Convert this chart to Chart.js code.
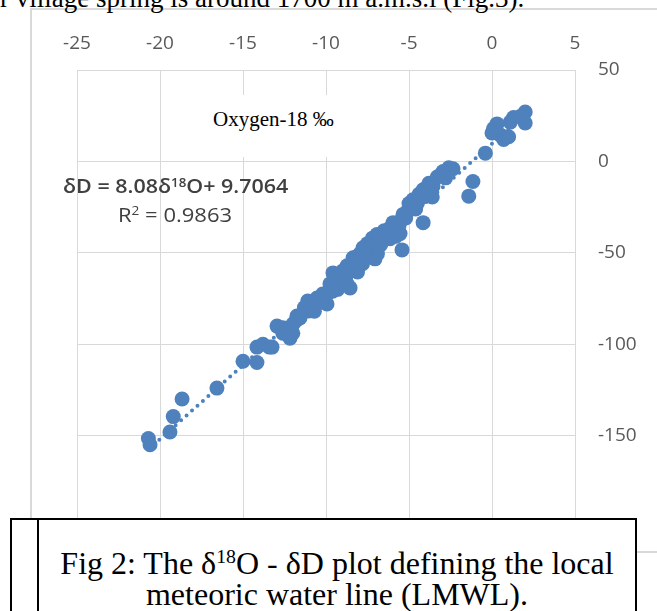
<!DOCTYPE html>
<html>
<head>
<meta charset="utf-8">
<script src="https://cdn.jsdelivr.net/npm/chart.js@4"></script>
<style>
  body { margin: 0; background: #fff; width: 657px; height: 611px; overflow: hidden; position: relative; }
  #frame { position: absolute; left: 30px; top: 8px; width: 700px; height: 545px; border: 2px solid #d9d9d9; box-sizing: border-box; }
  #chart { position: absolute; left: 0; top: 0; }
  .note { position: absolute; white-space: nowrap; transform-origin: 0 50%; }
  #doctext { left: 0; top: -15px; font: 27px/26px "Liberation Serif", "Times New Roman", serif; color: #000; }
  #oxy { left: 205px; top: 95px; width: 140px; height: 62px; background: #fff; }
  #oxy span { position: absolute; left: 8px; top: 12px; font: 21px "Liberation Serif", serif; color: #000; }
  #eq { left: 63px; top: 173px; font: 600 19px "Open Sans", sans-serif; color: #404040; transform: scaleX(1.13); }
  #r2 { left: 118px; top: 201px; font: 20px "Open Sans", sans-serif; color: #404040; transform: scaleX(1.1); }
  sup { font-size: 62%; line-height: 0; vertical-align: 0.55em; }
  #caption { position: absolute; left: 10px; top: 518px; width: 627px; height: 110px; border: 2px solid #000; box-sizing: border-box; background: #fff; }
  #caption .inner { position: absolute; left: 25px; top: 0; bottom: 0; border-left: 2px solid #000; }
  #caption .txt { position: absolute; left: 27px; right: 0; top: 28px; text-align: center; font: 32px/31px "Liberation Serif", "Times New Roman", serif; color: #000; }
</style>
</head>
<body>
<div id="frame"></div>
<div id="doctext" class="note">r village spring is around 1700 m a.m.s.l (Fig.3).</div>
<canvas id="chart" width="657" height="611"></canvas>
<div id="oxy" class="note"><span>Oxygen-18 ‰</span></div>
<div id="eq" class="note">δD = 8.08δ<sup>18</sup>O+ 9.7064</div>
<div id="r2" class="note">R<sup>2</sup> = 0.9863</div>
<div id="caption">
  <div class="inner"></div>
  <div class="txt">Fig 2: The δ<sup>18</sup>O - δD plot defining the local<br>meteoric water line (LMWL).</div>
</div>

<script>
// samples: oxygen-18 (x) vs deuterium (y), per mil
const oxygen18 = [
  2.0, 1.3, 1.7, 2.0, 1.1, 0.3, 0.1, 0.0, 0.5, 0.7, 1.0, -0.4,
  -1.15, -1.4,
  -2.35, -2.6, -2.95, -3.1, -3.3, -2.8, -3.55, -3.8, -4.15, -3.6, -4.4, -4.0,
  -4.76, -4.5, -4.94, -4.6, -5.1, -5.36, -5.2, -4.15, -5.5, -5.96, -5.72, -6.14,
  -5.54, -5.8, -6.14, -6.5, -6.3, -6.93, -7.2, -7.0, -6.7, -5.42, -7.5, -7.77,
  -7.4, -7.1, -7.95, -8.07, -8.37, -7.05, -7.6, -8.2, -7.8, -8.73, -8.5, -8.1,
  -9.0, -9.58, -9.2, -8.8, -9.0, -8.73, -9.76, -9.5, -8.55, -9.3, -9.6, -10.2,
  -9.94, -10.54, -9.94, -10.3, -11.1, -10.8, -11.1, -11.3, -10.7, -11.75, -11.57, -11.8,
  -11.99, -12.95, -12.6, -12.3, -12.6, -12.17, -12.0, -13.8, -13.4, -13.25, -14.16, -14.16,
  -15.0, -16.57, -18.67, -19.2, -19.4, -20.7, -20.6,
  -3.9, -4.3, -5.0, -5.6, -6.0, -7.3, -6.9
];
const deuterium = [
  27, 24, 24.5, 21, 21.5, 20.5, 18, 15.5, 14.5, 12, 13.5, 4.5,
  -11, -19,
  -4, -3.5, -5.5, -7.5, -8.5, -9, -13.5, -12, -15.5, -19.5, -18, -17,
  -21, -23, -25, -26, -27.5, -29, -31, -33.5, -32.5, -33.5, -36, -36.5,
  -39.5, -41, -42.3, -38, -40, -40, -42, -44, -45.5, -48.4, -45, -47.3,
  -49, -48, -50.5, -51.6, -52.7, -53.3, -52, -55, -56, -57.1, -59, -60.5,
  -60, -61, -63, -62.5, -65, -67, -67, -65.5, -69.2, -70, -71, -72.5,
  -72.5, -74.7, -78, -77, -76.4, -78, -81.9, -80, -82, -84.6, -85.7, -87,
  -89, -90.1, -91, -92, -94, -96.7, -94, -100, -101.6, -101.6, -101.6, -110,
  -109.3, -124, -130, -139.6, -148, -151.6, -155,
  -14, -20, -23, -35, -38.5, -47, -50.5
];

// linear trend shown on the chart
const trendSlope = 8.08;
const trendIntercept = 9.7064;
const trendRange = [-20.7, 2.0];

const xTicks = [-25, -20, -15, -10, -5, 0, 5];
const yTicks = [50, 0, -50, -100, -150];

const blue = "rgb(79, 129, 189)";
const gridColor = "#d9d9d9";
const tickFont = { family: "Open Sans", size: 19 };

const points = oxygen18.map((x, i) => ({ x: x, y: deuterium[i] }));
const trend = trendRange.map((x) => ({ x: x, y: trendSlope * x + trendIntercept }));

const ctx = document.getElementById("chart").getContext("2d");
new Chart(ctx, {
  type: "scatter",
  data: {
    datasets: [
      {
        label: "trend",
        data: trend,
        showLine: true,
        borderColor: blue,
        borderWidth: 4,
        borderDash: [0, 7.3],
        borderCapStyle: "round",
        pointRadius: 0,
        order: 0,
      },
      {
        label: "samples",
        data: points,
        backgroundColor: blue,
        borderWidth: 0,
        pointRadius: 7.5,
        order: 1,
      },
    ],
  },
  options: {
    responsive: false,
    animation: false,
    devicePixelRatio: 1,
    layout: { padding: { left: 77, top: 8, right: 0, bottom: 84 } },
    plugins: { legend: { display: false }, tooltip: { enabled: false } },
    scales: {
      x: {
        type: "linear",
        position: "top",
        min: -25,
        max: 5,
        afterBuildTicks: (s) => { s.ticks = xTicks.map((v) => ({ value: v })); },
        afterFit: (s) => { s.height = 62; },
        ticks: { font: tickFont, color: "#595959", padding: 15, maxRotation: 0 },
        grid: { color: gridColor, drawTicks: false },
        border: { display: false },
      },
      y: {
        type: "linear",
        position: "right",
        min: -200,
        max: 50,
        afterBuildTicks: (s) => { s.ticks = yTicks.concat([-200]).map((v) => ({ value: v })); },
        afterFit: (s) => { s.width = 82; },
        ticks: {
          font: tickFont,
          color: "#595959",
          padding: 23,
          callback: (v) => (yTicks.includes(v) ? v : ""),
        },
        grid: { color: gridColor, drawTicks: false },
        border: { display: false },
      },
    },
  },
});
</script>
</body>
</html>
